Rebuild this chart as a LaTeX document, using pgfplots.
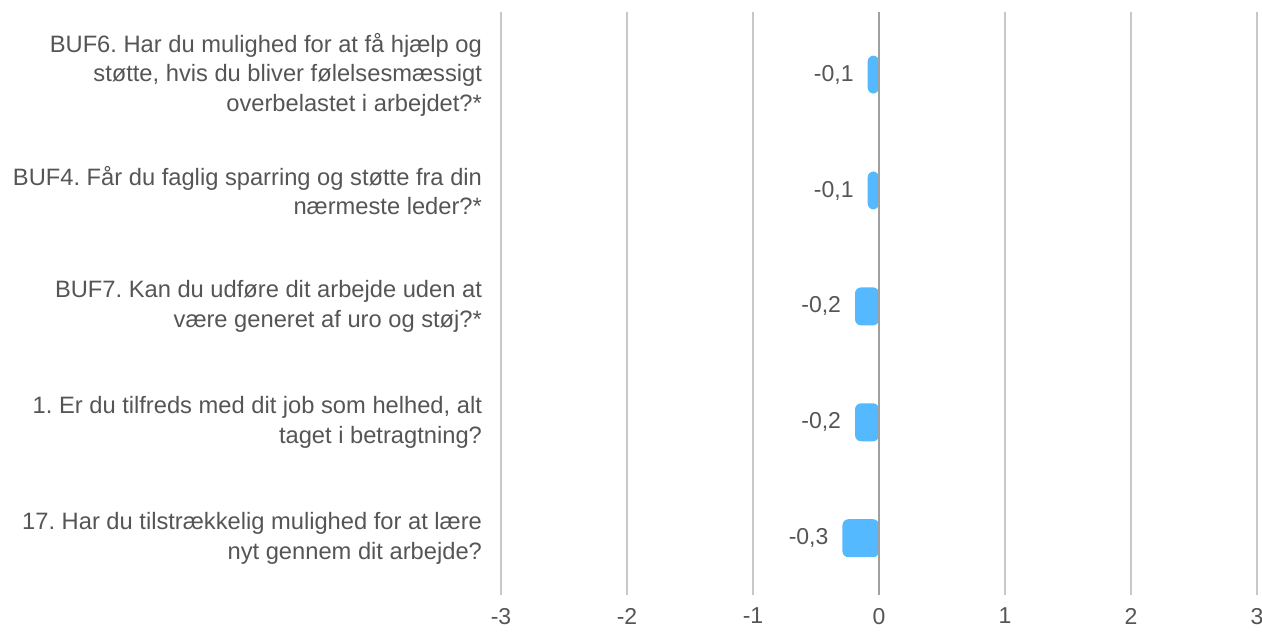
\documentclass[border=0pt]{standalone}
\usepackage{pgfplots}
\pgfplotsset{compat=1.18}
\usepackage{fontspec}
\setmainfont{Liberation Sans}
\frenchspacing
\definecolor{barblue}{HTML}{55B9FF}
\definecolor{txtgray}{HTML}{555555}
\definecolor{gridgray}{HTML}{C8C8C8}
\definecolor{zerogray}{HTML}{A0A0A0}
\begin{document}
\frenchspacing
\begin{tikzpicture}
\useasboundingbox (0,0) rectangle (631pt,316pt);
\begin{axis}[
  at={(250.5pt,18.5pt)}, anchor=south west,
  scale only axis, width=378pt, height=291.5pt,
  xbar, bar width=19pt,
  xmin=-3, xmax=3, ymin=-0.49, ymax=4.54,
  xtick={-3,-2,-1,0,1,2,3},
  ytick={0,1,2,3,4},
  yticklabels={{17. Har du tilstrækkelig mulighed for at lære\\nyt gennem dit arbejde?},
               {1. Er du tilfreds med dit job som helhed, alt\\taget i betragtning?},
               {BUF7. Kan du udføre dit arbejde uden at\\være generet af uro og støj?*},
               {BUF4. Får du faglig sparring og støtte fra din\\nærmeste leder?*},
               {BUF6. Har du mulighed for at få hjælp og\\støtte, hvis du bliver følelsesmæssigt\\overbelastet i arbejdet?*}},
  yticklabel style={align=right, font=\fontsize{11.85}{14.75}\selectfont, text=txtgray, xshift=-6pt},
  xticklabel style={font=\fontsize{11.5}{13}\selectfont, text=txtgray, yshift=-3pt},
  /pgf/number format/assume math mode=true,
  axis line style={draw=none},
  major tick length=0pt,
  xmajorgrids, grid style={gridgray, line width=0.6pt},
  point meta=explicit symbolic,
  nodes near coords,
  nodes near coords style={anchor=east, xshift=-3.5pt, font=\fontsize{11.5}{13}\selectfont, text=txtgray},
]
\addplot[fill=barblue, draw=none, rounded corners=3pt] coordinates {
  (-0.29,0) [-0,3]
  (-0.19,1) [-0,2]
  (-0.19,2) [-0,2]
  (-0.09,3) [-0,1]
  (-0.09,4) [-0,1]
};
\draw[zerogray, line width=1.1pt] (axis cs:0,-0.49) -- (axis cs:0,4.54);
\end{axis}
\end{tikzpicture}
\end{document}
